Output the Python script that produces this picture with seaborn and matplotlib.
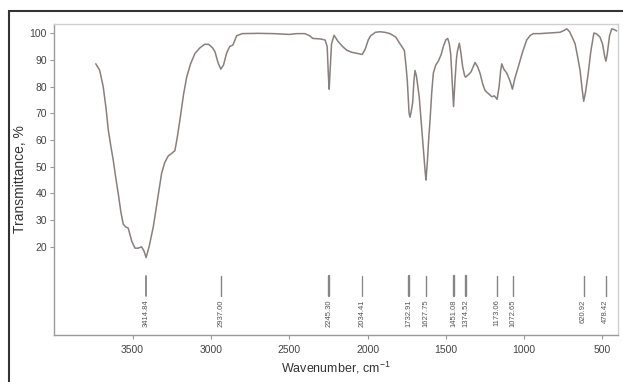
import matplotlib
matplotlib.use("Agg")
import matplotlib.pyplot as plt
from matplotlib.patches import Rectangle
import numpy as np
import pandas as pd
import seaborn as sns

# IR spectrum: wavenumber (cm-1) and transmittance (%)
wavenumber = [
    3735, 3710, 3688, 3670, 3656, 3640, 3624, 3608, 3592, 3575, 3560, 3545, 3528,
    3505, 3485, 3465, 3443, 3428, 3414, 3395, 3368, 3340, 3315, 3295, 3273, 3250,
    3230, 3215, 3198, 3175, 3155, 3130, 3102, 3070, 3040, 3015, 2990, 2974, 2955,
    2937, 2920, 2900, 2880, 2860, 2836, 2800, 2700, 2600, 2500, 2450, 2400, 2370,
    2350, 2300, 2271, 2258, 2250, 2245, 2240, 2230, 2214, 2190, 2160, 2133, 2100,
    2060, 2034, 2015, 1995, 1980, 1950, 1921, 1890, 1857, 1820, 1793, 1765, 1755,
    1746, 1735, 1729, 1720, 1712, 1704, 1697, 1688, 1670, 1655, 1644, 1632, 1627,
    1618, 1610, 1601, 1590, 1580, 1565, 1548, 1530, 1516, 1500, 1488, 1478, 1469,
    1460, 1451, 1442, 1433, 1427, 1414, 1405, 1393, 1380, 1374, 1355, 1339, 1314,
    1298, 1282, 1265, 1250, 1218, 1207, 1190, 1173, 1160, 1150, 1143, 1130, 1111,
    1090, 1075, 1060, 1037, 1010, 984, 960, 941, 900, 850, 800, 771, 745, 728, 710,
    690, 675, 660, 643, 630, 620, 608, 591, 575, 555, 540, 517, 500, 485, 478, 470,
    455, 441, 425, 409,
]
transmittance = [
    88.5, 86, 80, 72, 64, 58, 52.5, 46, 40, 33, 28.5, 27.5, 27,
    22, 19.5, 19.5, 20, 18.5, 16, 20, 27.5, 38, 47.5, 51.5, 54, 55,
    56, 61, 67.5, 77, 83.5, 88.5, 92.4, 94.5, 95.8, 95.8, 94.5, 93, 89,
    86.5, 88, 92.5, 95, 95.5, 99, 99.8, 99.9, 99.8, 99.5, 99.8, 99.8, 99,
    98, 97.8, 97.4, 95, 84, 79, 85, 96, 99.2, 97, 95, 93.6, 92.8,
    92.3, 92, 94, 97.5, 99, 100.3, 100.5, 100.3, 99.8, 98.5, 96, 93.5, 88,
    82, 70, 68.5, 71, 74, 82, 86, 84, 76, 65, 57, 48, 45,
    52, 60, 67.5, 78, 85, 88, 89.5, 92, 95, 97.5, 98, 96, 92,
    82, 72.5, 82, 90, 93, 96.2, 93, 87.5, 84, 83.5, 84.5, 85.5, 89,
    87.5, 85, 81, 78.5, 76.8, 76.2, 76.5, 75.2, 80, 86, 88.5, 86.5, 85,
    82, 79, 83, 87.5, 93, 97.4, 99.2, 99.8, 99.8, 100, 100.2, 100.3, 101, 101.6, 100.5,
    98, 96, 91.5, 86, 79, 74.5, 78, 85, 93, 100, 99.8, 98.6, 96, 91, 89.5, 92,
    99, 101.6, 101.3, 100.8,
]

# Annotated band positions
peak_positions = [3414.84, 2937.00, 2245.30, 2034.41, 1732.91, 1627.75,
                  1451.08, 1374.52, 1173.06, 1072.65, 620.92, 478.42]
peak_labels = ["3414.84", "2937.00", "2245.30", "2034.41", "1732.91", "1627.75",
               "1451.08", "1374.52", "1173.06", "1072.65", "620.92", "478.42"]
peak_widths = [1.3, 1.0, 1.7, 0.9, 1.7, 1.0, 1.7, 1.7, 1.0, 1.0, 1.0, 1.0]

x_ticks = [3500, 3000, 2500, 2000, 1500, 1000, 500]
y_ticks = [20, 30, 40, 50, 60, 70, 80, 90, 100]

sns.set_theme(style="white")
plt.rcParams["font.family"] = ["Liberation Sans", "DejaVu Sans"]
plt.rcParams["mathtext.fontset"] = "custom"
plt.rcParams["mathtext.rm"] = "Liberation Sans"
plt.rcParams["mathtext.it"] = "Liberation Sans"

spectrum = pd.DataFrame({"wavenumber": wavenumber, "transmittance": transmittance})

fig = plt.figure(figsize=(6.23, 3.82), dpi=100)
ax = fig.add_axes([54 / 623, 1 - 335 / 382, 564 / 623, 311 / 382])

sns.lineplot(data=spectrum, x="wavenumber", y="transmittance", sort=False,
             color="#8a7f7f", linewidth=1.1, ax=ax)

# band markers with their labels below
for pos, lab, lw in zip(peak_positions, peak_labels, peak_widths):
    ax.plot([pos, pos], [9, 1.5], color="#858585", linewidth=lw)
    ax.text(pos, 0.3, lab, rotation=90, ha="center", va="top",
            fontsize=5.5, color="#555555")

ax.set_xlim(4002, 401)
ax.set_ylim(-13, 103.4)
ax.set_xticks(x_ticks)
ax.set_yticks(y_ticks)
ax.set_xticklabels([str(v) for v in x_ticks])
ax.set_yticklabels([str(v) for v in y_ticks])
ax.tick_params(axis="both", which="major", labelsize=7.5, labelcolor="#444444",
               color="#999999", length=3, width=0.8, direction="out",
               bottom=True, left=True, pad=2)
ax.tick_params(axis="x", pad=4)

for side in ["left", "bottom"]:
    ax.spines[side].set_color("#9a9a9a")
    ax.spines[side].set_linewidth(1.0)
for side in ["top", "right"]:
    ax.spines[side].set_color("#cfcfcf")
    ax.spines[side].set_linewidth(1.0)

ax.set_xlabel("Wavenumber, cm$^{-1}$", fontsize=9, color="#333333")
ax.set_ylabel("Transmittance, %", fontsize=10, color="#333333")
ax.xaxis.set_label_coords(0.5, -0.08)
ax.yaxis.set_label_coords(-0.048, 0.5)

# outer frame of the figure panel
fig.patches.append(Rectangle((9 / 623, -0.1), 1.2, 1.1 - 11 / 382,
                             transform=fig.transFigure, fill=False,
                             edgecolor="#333333", linewidth=1.5))

fig.savefig("out.png", dpi=100)
